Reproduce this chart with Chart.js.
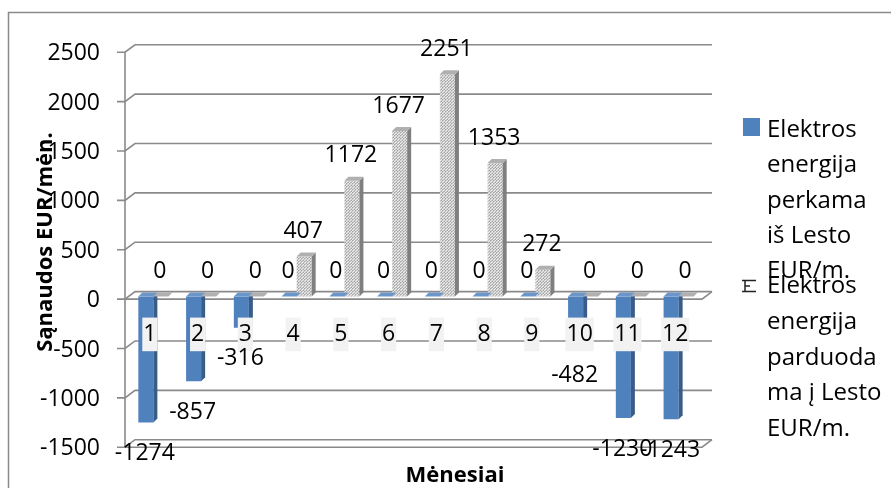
<!DOCTYPE html>
<html><head><meta charset="utf-8">
<script src="https://cdn.jsdelivr.net/npm/chart.js@4/dist/chart.umd.min.js"></script>
<style>html,body{margin:0;padding:0;background:#fff;overflow:hidden}#wrap{width:891px;height:488px}</style>
</head><body><div id="wrap"><canvas id="c" width="891" height="488"></canvas></div>
<script>
const months = ['1','2','3','4','5','6','7','8','9','10','11','12'];
const boughtValues = [-1274, -857, -316, 0, 0, 0, 0, 0, 0, -482, -1230, -1243];
const soldValues = [0, 0, 0, 407, 1172, 1677, 2251, 1353, 272, 0, 0, 0];
const yMin = -1500, yMax = 2500, yStep = 500;
const seriesNames = ['Elektros energija perkama iš Lesto EUR/m.', 'Elektros energija parduodama į Lesto EUR/m.'];
const legendLines1 = ['Elektros', 'energija', 'perkama', 'iš Lesto', 'EUR/m.'];
const legendLines2 = ['Elektros', 'energija', 'parduoda', 'ma į Lesto', 'EUR/m.'];
const yTitle = 'Sąnaudos EUR/mėn.';
const xTitle = 'Mėnesiai';

const FONT = '"Open Sans", "Noto Sans", sans-serif';
const GRID = '#8a8a8a';

function makePattern(){
  const p = document.createElement('canvas'); p.width = 3; p.height = 3;
  const g = p.getContext('2d');
  g.fillStyle = '#c6c6c6'; g.fillRect(0,0,3,3);
  g.fillStyle = '#ebebeb'; g.fillRect(0,0,1,1); g.fillRect(2,1,1,1); g.fillRect(1,2,1,1);
  g.fillStyle = '#a4a4a4'; g.fillRect(1,0,1,1); g.fillRect(0,2,1,1);
  return g.createPattern(p, 'repeat');
}
const grayPattern = makePattern();

const faces = [
  {side:'#385d8a', top:'#6c96ca'},
  {side:'#7f7f7f', top:'#b0b0b0'}
];

const deco = {
  id: 'deco',
  beforeDraw(chart){
    const ctx = chart.ctx;
    ctx.save();
    ctx.fillStyle = '#fff'; ctx.fillRect(0,0,chart.width,chart.height);
    ctx.strokeStyle = '#8a8a8a'; ctx.lineWidth = 1.5;
    ctx.strokeRect(8.5, 12.5, 900, 500);
    ctx.restore();
  },
  beforeDatasetsDraw(chart){
    const ctx = chart.ctx, ys = chart.scales.y, ca = chart.chartArea;
    const ax = ca.left - 4.5, bx = ax + 10, rx = ca.right + 9.5;
    ctx.save();
    ctx.strokeStyle = GRID; ctx.lineWidth = 1.6;
    for (let v = yMin; v <= yMax; v += yStep){
      const yp = ys.getPixelForValue(v);
      ctx.beginPath();
      ctx.moveTo(ax - 8, yp + 2.5); ctx.lineTo(ax, yp + 2.5);
      ctx.lineTo(bx, yp - 5); ctx.lineTo(rx, yp - 5);
      ctx.stroke();
    }
    [0, yMin].forEach(v => {
      const yp = ys.getPixelForValue(v);
      ctx.beginPath();
      ctx.moveTo(ax, yp + 2.5); ctx.lineTo(rx - 10, yp + 2.5); ctx.lineTo(rx, yp - 5);
      ctx.stroke();
    });
    ctx.beginPath();
    ctx.moveTo(ax, ys.getPixelForValue(yMax) + 2.5);
    ctx.lineTo(ax, ys.getPixelForValue(yMin) + 2.5);
    ctx.stroke();
    ctx.restore();
  },
  afterDatasetsDraw(chart){
    const ctx = chart.ctx; const dx = 4, dy = -4;
    ctx.save();
    chart.data.datasets.forEach((ds, di) => {
      const meta = chart.getDatasetMeta(di);
      meta.data.forEach(el => {
        const {x, y, base, width} = el.getProps(['x','y','base','width'], true);
        const l = x - width/2, r = x + width/2;
        const t = Math.min(y, base), b = Math.max(y, base);
        if (b - t > 0.5){
          ctx.fillStyle = faces[di].side;
          ctx.beginPath();
          ctx.moveTo(r, t); ctx.lineTo(r+dx, t+dy); ctx.lineTo(r+dx, b+dy); ctx.lineTo(r, b); ctx.closePath();
          ctx.fill();
        }
        ctx.fillStyle = faces[di].top;
        ctx.beginPath();
        ctx.moveTo(l, t); ctx.lineTo(l+dx, t+dy); ctx.lineTo(r+dx, t+dy); ctx.lineTo(r, t); ctx.closePath();
        ctx.fill();
      });
    });
    ctx.restore();
  },
  afterDraw(chart){
    const ctx = chart.ctx;
    ctx.save();
    // data labels
    ctx.fillStyle = '#000';
    ctx.font = '23px ' + FONT;
    ctx.textAlign = 'center'; ctx.textBaseline = 'middle';
    chart.data.datasets.forEach((ds, di) => {
      const meta = chart.getDatasetMeta(di);
      meta.data.forEach((el, i) => {
        const v = ds.data[i];
        const {x, y} = el.getProps(['x','y'], true);
        const ty = v < 0 ? y + 31 : y - 25;
        ctx.fillText(String(v), x - 1, ty);
      });
    });
    // legend
    ctx.textAlign = 'left'; ctx.textBaseline = 'alphabetic';
    ctx.font = '24px ' + FONT;
    ctx.fillStyle = '#4f81bd';
    ctx.fillRect(743, 118, 17, 18);
    ctx.fillStyle = '#000';
    legendLines1.forEach((s, i) => ctx.fillText(s, 767, 136.7 + 35.4 * i));
    legendLines2.forEach((s, i) => ctx.fillText(s, 767, 293 + 35.8 * i));
    ctx.strokeStyle = '#222'; ctx.lineWidth = 1.5;
    ctx.beginPath();
    ctx.moveTo(742, 280.5); ctx.lineTo(756, 280.5);
    ctx.moveTo(742, 291.5); ctx.lineTo(756, 291.5);
    ctx.moveTo(745, 280.5); ctx.lineTo(745, 291.5);
    ctx.moveTo(745, 286); ctx.lineTo(750, 286);
    ctx.stroke();
    // axis titles
    ctx.font = 'bold 22px ' + FONT;
    ctx.textAlign = 'center'; ctx.textBaseline = 'middle';
    ctx.fillText(xTitle, 455, 476);
    ctx.translate(46, 242); ctx.rotate(-Math.PI/2);
    ctx.fillText(yTitle, 0, 0);
    ctx.restore();
  }
};

new Chart(document.getElementById('c'), {
  type: 'bar',
  data: {
    labels: months,
    datasets: [
      {label: seriesNames[0], data: boughtValues, backgroundColor: '#4f81bd', borderWidth: 0},
      {label: seriesNames[1], data: soldValues, backgroundColor: grayPattern, borderWidth: 0}
    ]
  },
  options: {
    responsive: false, animation: false, devicePixelRatio: 1,
    layout: {padding: {left: 0, top: 49.75, right: 188.5, bottom: 42.75}},
    datasets: {bar: {categoryPercentage: 0.63, barPercentage: 1}},
    plugins: {legend: {display: false}, tooltip: {enabled: false}, title: {display: false}},
    scales: {
      x: {
        position: {y: 0}, offset: true,
        grid: {display: false, drawTicks: false}, border: {display: false},
        ticks: {
          z: 1,
          color: '#000', font: {family: FONT, size: 23}, padding: 24, labelOffset: -3.5,
          maxRotation: 0, autoSkip: false,
          showLabelBackdrop: true, backdropColor: '#f2f2f2', backdropPadding: {x: 1, y: 3}
        }
      },
      y: {
        min: yMin, max: yMax,
        grid: {display: false, drawTicks: false}, border: {display: false},
        afterFit(s){ s.width = 129.5; },
        ticks: {stepSize: yStep, color: '#000', font: {family: FONT, size: 23}, padding: 29.5, labelOffset: 4,
          callback: v => String(v)}
      }
    }
  },
  plugins: [deco]
});
</script></body></html>
